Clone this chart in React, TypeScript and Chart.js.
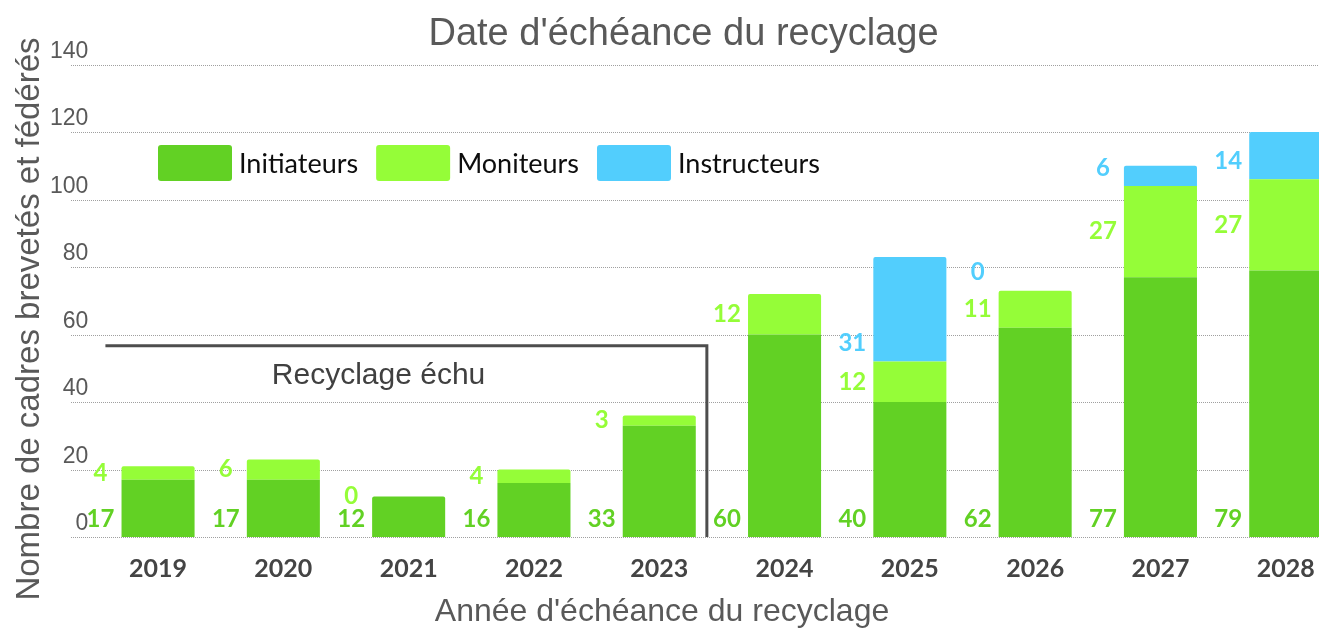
import React, { useEffect, useRef } from "react";
import { Chart, registerables } from "chart.js";

Chart.register(...registerables);

// ---------- data ----------
const YEARS = ["2019", "2020", "2021", "2022", "2023", "2024", "2025", "2026", "2027", "2028"];
const INITIATEURS = [17, 17, 12, 16, 33, 60, 40, 62, 77, 79];
const MONITEURS = [4, 6, 0, 4, 3, 12, 12, 11, 27, 27];
const INSTRUCTEURS: (number | null)[] = [null, null, null, null, null, null, 31, 0, 6, 14];
const SERIES_LABELS = ["Initiateurs", "Moniteurs", "Instructeurs"];

const TITLE = "Date d'échéance du recyclage";
const X_TITLE = "Année d'échéance du recyclage";
const Y_TITLE = "Nombre de cadres brevetés et fédérés";
const Y_MIN = 0;
const Y_MAX = 140;
const Y_STEP = 20;

// "Recyclage échu" bracket annotation (in data units of the scales)
const BRACKET_LABEL = "Recyclage échu";
const BRACKET_FROM = -0.42; // category index
const BRACKET_TO = 4.38; // category index
const BRACKET_LEVEL = 56.7; // y value
const BRACKET_TEXT_AT = 1.76; // category index
const BRACKET_TEXT_LEVEL = 48.4; // y value

// ---------- styles ----------
const C_INIT = "#62d124";
const C_MONI = "#95fd38";
const C_INST = "#52cefd";
const ARIAL = "'Liberation Sans', Arial, sans-serif";
const LATO = "Lato, 'Open Sans', sans-serif";

const gridPlugin = {
  id: "dottedGrid",
  beforeDatasetsDraw(chart: any) {
    const { ctx, scales } = chart;
    const y = scales.y;
    ctx.save();
    ctx.strokeStyle = "#a0a0a0";
    ctx.lineWidth = 1;
    ctx.setLineDash([1, 1]);
    y.ticks.forEach((t: any) => {
      const py = Math.round(y.getPixelForValue(t.value)) + 0.5;
      ctx.beginPath();
      ctx.moveTo(71, py);
      ctx.lineTo(chart.width, py);
      ctx.stroke();
    });
    ctx.restore();
  },
};

const labelsPlugin = {
  id: "segLabels",
  afterDatasetsDraw(chart: any) {
    const { ctx } = chart;
    ctx.save();
    ctx.font = `bold 24px ${LATO}`;
    ctx.textAlign = "center";
    ctx.textBaseline = "middle";
    chart.data.datasets.forEach((ds: any, di: number) => {
      const meta = chart.getDatasetMeta(di);
      meta.data.forEach((el: any, i: number) => {
        const v = ds.data[i];
        if (v === null || v === undefined) return;
        const left = el.x - el.width / 2;
        const cx = left - 21;
        const cy = ds.labelAnchor === "center" ? (el.y + el.base) / 2 : el.base - 18;
        ctx.fillStyle = ds.backgroundColor;
        ctx.fillText(String(v), cx, cy);
      });
    });
    ctx.restore();
  },
};

const decorPlugin = {
  id: "decor",
  afterDraw(chart: any) {
    const { ctx, scales } = chart;
    const x = scales.x;
    const y = scales.y;
    ctx.save();
    // title
    ctx.fillStyle = "#595959";
    ctx.font = `38px ${ARIAL}`;
    ctx.textAlign = "center";
    ctx.textBaseline = "middle";
    ctx.fillText(TITLE, 683.5, 35);

    // bracket
    const x0 = x.getPixelForValue(BRACKET_FROM);
    const x1 = x.getPixelForValue(BRACKET_TO);
    const yl = y.getPixelForValue(BRACKET_LEVEL);
    const y0 = y.getPixelForValue(0);
    ctx.strokeStyle = "#4d4d4d";
    ctx.lineWidth = 3;
    ctx.beginPath();
    ctx.moveTo(x0, yl);
    ctx.lineTo(x1, yl);
    ctx.lineTo(x1, y0);
    ctx.stroke();
    ctx.fillStyle = "#404040";
    ctx.font = `30px ${ARIAL}`;
    ctx.fillText(BRACKET_LABEL, x.getPixelForValue(BRACKET_TEXT_AT), y.getPixelForValue(BRACKET_TEXT_LEVEL) + 2);

    // legend
    let lx = 158;
    const ly = 145;
    ctx.font = `27px ${LATO}`;
    ctx.textAlign = "left";
    chart.data.datasets.forEach((ds: any) => {
      ctx.fillStyle = ds.backgroundColor;
      ctx.beginPath();
      (ctx as any).roundRect(lx, ly, 74, 36, 3);
      ctx.fill();
      ctx.fillStyle = "#0d0d0d";
      ctx.fillText(ds.label, lx + 81, ly + 19);
      lx += 81 + ctx.measureText(ds.label).width + 18;
    });

    // axis titles
    ctx.fillStyle = "#595959";
    ctx.font = `32px ${ARIAL}`;
    ctx.textAlign = "center";
    ctx.fillText(X_TITLE, 662, 612);
    ctx.translate(30, 319);
    ctx.rotate(-Math.PI / 2);
    ctx.font = `33px ${ARIAL}`;
    ctx.fillText(Y_TITLE, 0, 0);
    ctx.restore();
  },
};

export default function App() {
  const ref = useRef<HTMLCanvasElement | null>(null);

  useEffect(() => {
    document.body.style.margin = "0";
    document.body.style.overflow = "hidden";
    const canvas = ref.current!;
    const chart = new Chart(canvas, {
      type: "bar",
      data: {
        labels: YEARS,
        datasets: [
          { label: SERIES_LABELS[0], data: INITIATEURS, backgroundColor: C_INIT, labelAnchor: "base" } as any,
          { label: SERIES_LABELS[1], data: MONITEURS, backgroundColor: C_MONI, labelAnchor: "center" } as any,
          { label: SERIES_LABELS[2], data: INSTRUCTEURS, backgroundColor: C_INST, labelAnchor: "base" } as any,
        ],
      },
      options: {
        animation: false,
        responsive: false,
        devicePixelRatio: 1,
        events: [],
        layout: { padding: { left: 0, right: 17.6, top: 64.6, bottom: 0 } },
        datasets: {
          bar: {
            categoryPercentage: 1,
            barPercentage: 0.583,
            borderRadius: 2,
            borderWidth: 0,
          },
        },
        plugins: {
          legend: { display: false },
          tooltip: { enabled: false },
          title: { display: false },
        },
        scales: {
          x: {
            stacked: true,
            grid: { display: false },
            border: { display: false },
            ticks: {
              color: "#444444",
              font: { family: LATO, size: 25, weight: "bold" },
              padding: 9,
              maxRotation: 0,
              autoSkip: false,
            },
            afterFit(scale: any) {
              scale.height = 91;
            },
          },
          y: {
            stacked: true,
            min: Y_MIN,
            max: Y_MAX,
            grid: { display: false, drawTicks: false },
            border: { display: false },
            ticks: {
              stepSize: Y_STEP,
              color: "#595959",
              font: { family: ARIAL, size: 23 },
              padding: 7,
              labelOffset: -13,
            },
            afterFit(scale: any) {
              scale.width = 95.4;
            },
          },
        },
      } as any,
      plugins: [gridPlugin, labelsPlugin, decorPlugin],
    });
    return () => chart.destroy();
  }, []);

  return (
    <div style={{ position: "relative", width: 1319, height: 628, overflow: "hidden", background: "#fff" }}>
      <canvas ref={ref} width={1366} height={628} style={{ width: 1366, height: 628, display: "block" }} />
    </div>
  );
}
